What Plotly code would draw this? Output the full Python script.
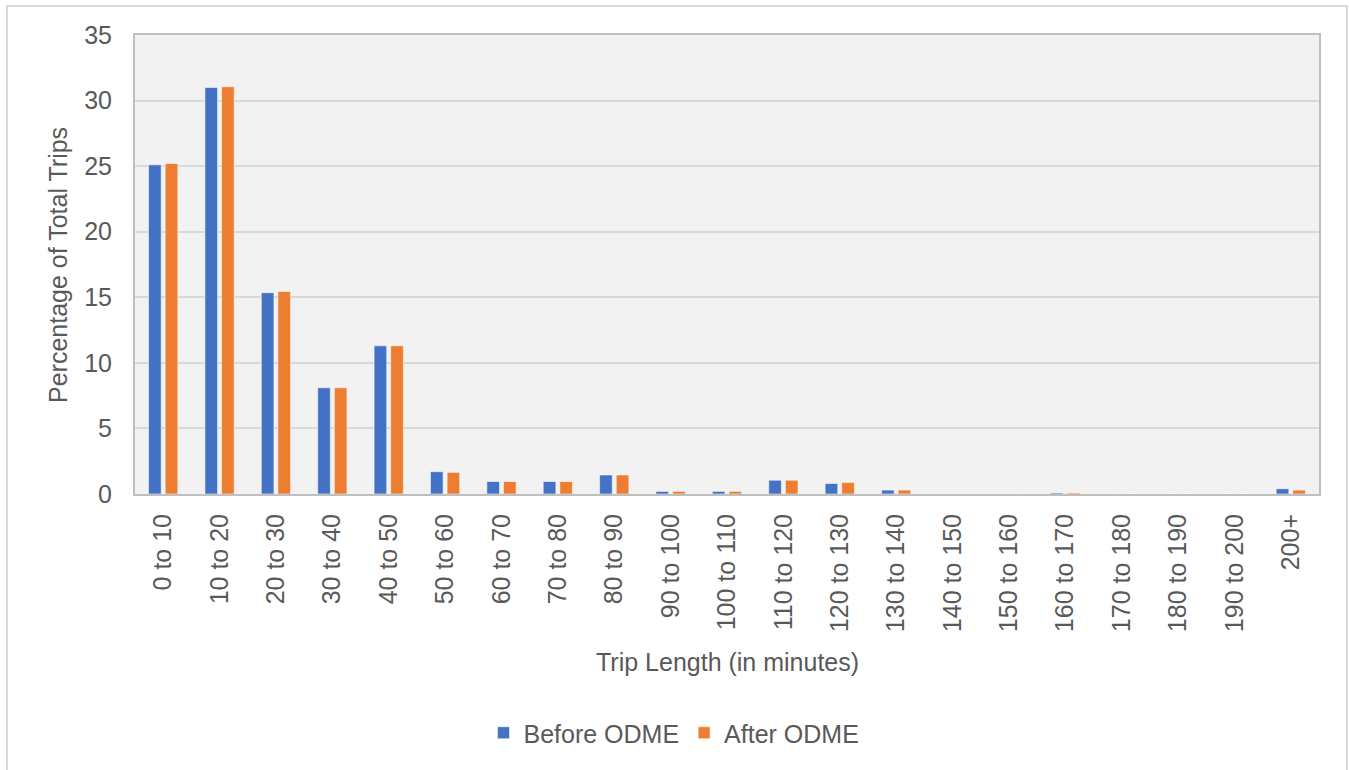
import plotly.graph_objects as go

# Trip-length bins (minutes)
categories = ["0 to 10", "10 to 20", "20 to 30", "30 to 40", "40 to 50", "50 to 60",
              "60 to 70", "70 to 80", "80 to 90", "90 to 100", "100 to 110",
              "110 to 120", "120 to 130", "130 to 140", "140 to 150", "150 to 160",
              "160 to 170", "170 to 180", "180 to 190", "190 to 200", "200+"]

# Share of total trips (%) per bin
before_odme = [25.1, 31.0, 15.35, 8.1, 11.3, 1.7, 0.95, 0.95, 1.45, 0.2, 0.2,
               1.05, 0.8, 0.3, 0.0, 0.0, 0.08, 0.0, 0.0, 0.0, 0.4]
after_odme = [25.2, 31.05, 15.45, 8.1, 11.3, 1.65, 0.95, 0.95, 1.45, 0.2, 0.2,
              1.05, 0.88, 0.3, 0.0, 0.0, 0.08, 0.0, 0.0, 0.0, 0.3]

y_ticks = [0, 5, 10, 15, 20, 25, 30, 35]

FONT = "Liberation Sans, Arial, sans-serif"
TEXT = "#595959"

# Plot-area placement in pixels, used to convert outer frame to paper coords
W, H = 1349, 770
L, R, T, B = 135, 30, 35, 276
pw, ph = W - L - R, H - T - B


def px_x(x):
    return (x - L) / pw


def px_y(y):
    return (H - B - y) / ph


fig = go.Figure()
fig.add_trace(go.Bar(
    x=categories, y=before_odme, name="Before ODME",
    marker=dict(color="#4472C4", line=dict(color="rgba(255,255,255,0.55)", width=1)),
))
fig.add_trace(go.Bar(
    x=categories, y=after_odme, name="After ODME",
    marker=dict(color="#ED7D31", line=dict(color="rgba(255,255,255,0.55)", width=1)),
))

fig.update_layout(
    width=W, height=H,
    margin=dict(l=L, r=R, t=T, b=B),
    paper_bgcolor="white",
    plot_bgcolor="#F2F2F2",
    barmode="group",
    bargap=0.41,
    bargroupgap=0.24,
    font=dict(family=FONT, size=25, color=TEXT),
    showlegend=True,
    legend=dict(
        orientation="h", x=px_x(674), xanchor="center",
        y=px_y(733), yanchor="middle",
        font=dict(size=25, color=TEXT),
        itemwidth=30, tracegroupgap=0,
        bgcolor="rgba(0,0,0,0)",
    ),
    xaxis=dict(
        type="category",
        tickangle=-90,
        tickfont=dict(size=25, color=TEXT),
        showgrid=False,
        showline=True, linecolor="#BFBFBF", linewidth=2, mirror=True,
        ticks="", ticklabelstandoff=8,
        zeroline=False,
    ),
    yaxis=dict(
        range=[0, 35],
        tickvals=y_ticks,
        tickfont=dict(size=25, color=TEXT),
        showgrid=True, gridcolor="#D9D9D9", gridwidth=2,
        showline=True, linecolor="#BFBFBF", linewidth=2, mirror=True,
        ticks="", ticklabelstandoff=16,
        zeroline=False,
    ),
    annotations=[
        dict(text="Trip Length (in minutes)", xref="paper", yref="paper",
             x=px_x(727), y=px_y(662), xanchor="center", yanchor="middle",
             showarrow=False, font=dict(size=25, color=TEXT)),
        dict(text="Percentage of Total Trips", xref="paper", yref="paper",
             x=px_x(58), y=px_y(265), xanchor="center", yanchor="middle",
             textangle=-90, showarrow=False, font=dict(size=25, color=TEXT)),
    ],
    shapes=[
        dict(type="rect", xref="paper", yref="paper",
             x0=px_x(7), x1=px_x(1347), y0=px_y(775), y1=px_y(6),
             line=dict(color="#D9D9D9", width=2), fillcolor="rgba(0,0,0,0)",
             layer="below"),
    ],
)

fig.write_html("out.html")
